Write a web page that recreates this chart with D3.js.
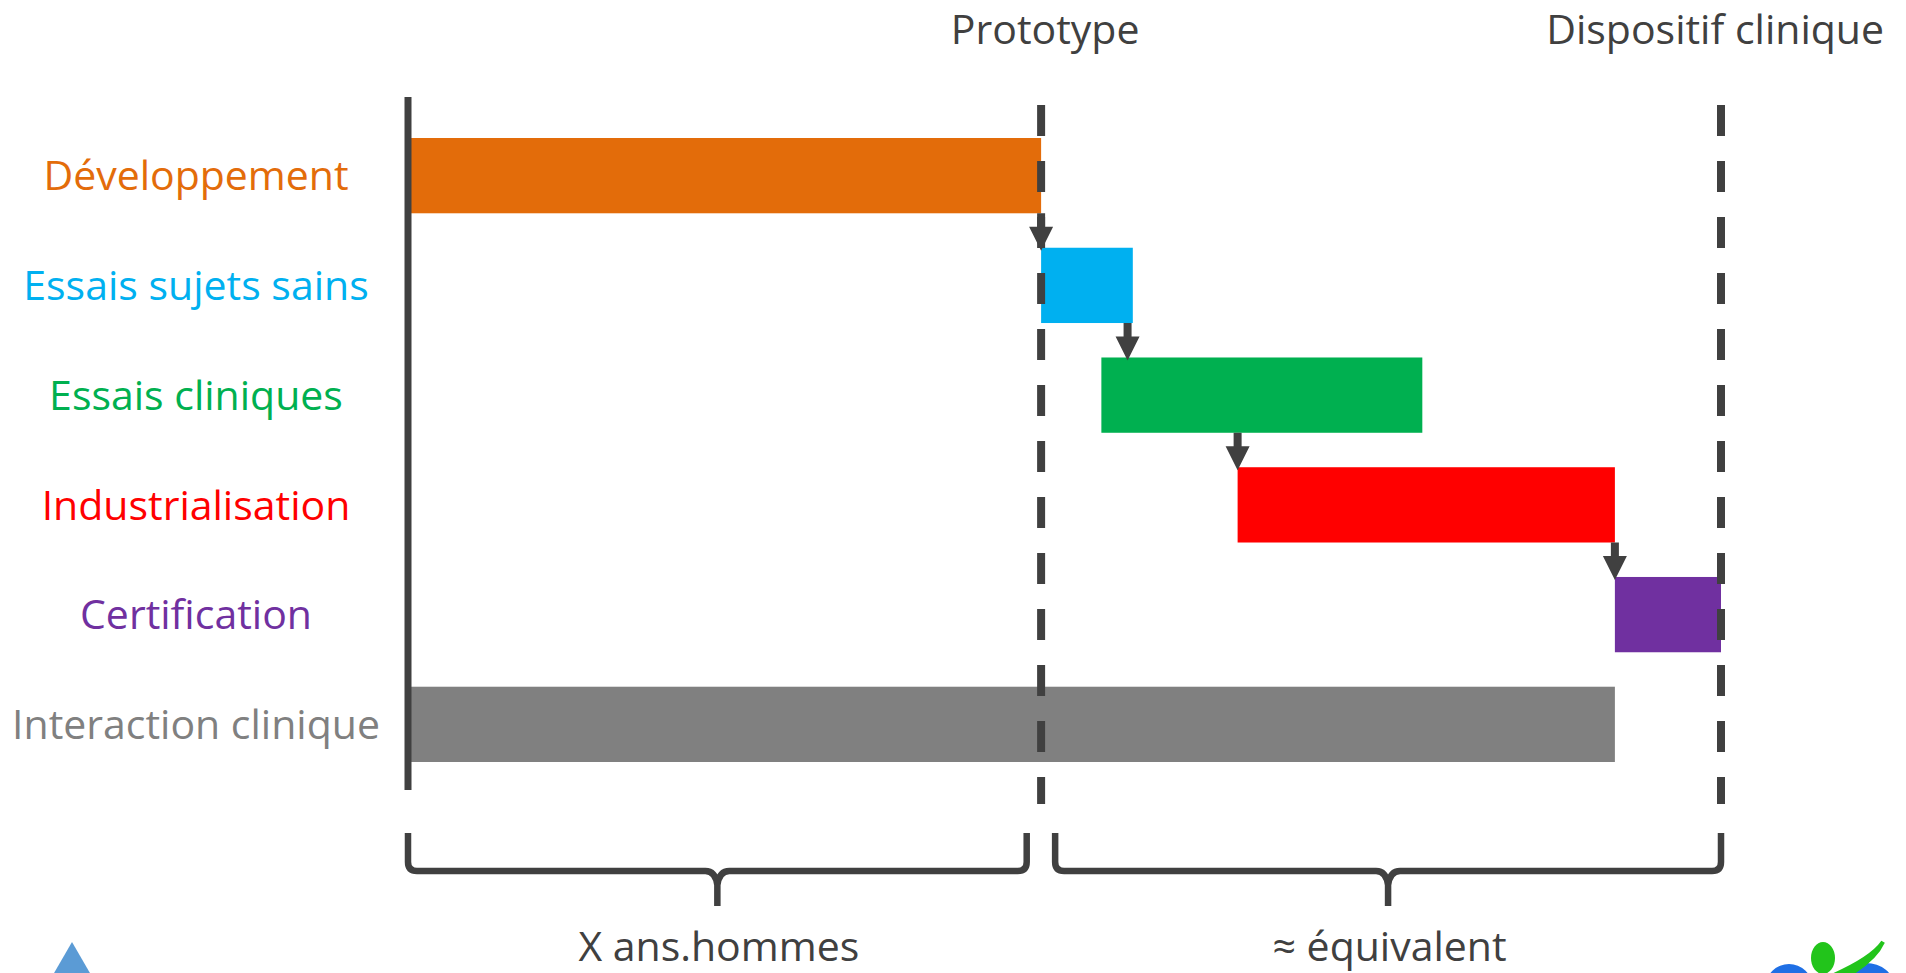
<!DOCTYPE html>
<html>
<head>
<meta charset="utf-8">
<script src="https://cdn.jsdelivr.net/npm/d3@7/dist/d3.min.js"></script>
<style>
  html, body { margin: 0; padding: 0; background: #fff; overflow: hidden; }
  svg text { font-family: "Open Sans", "Noto Sans", sans-serif; }
</style>
</head>
<body>
<svg id="chart" width="1906" height="973"></svg>
<script>
// Phases of the project (time in % of the total span)
const tasks = ['Développement', 'Essais sujets sains', 'Essais cliniques', 'Industrialisation', 'Certification', 'Interaction clinique'];
const taskStart = [0, 48.1, 52.7, 63.1, 91.9, 0];
const taskEnd = [48.1, 55.1, 77.2, 91.9, 100, 91.9];

// Milestones (dashed lines)
const milestones = ['Prototype', 'Dispositif clinique'];
const milestoneAt = [48.1, 100];

// Dependency arrows: from phase -> to phase, at time
const linkFrom = [0, 1, 2, 3];
const linkTo = [1, 2, 3, 4];
const linkAt = [48.1, 54.7, 63.1, 91.9];

// Braces under the chart
const braceLabels = ['X ans.hommes', '≈ équivalent'];
const braceFrom = [0, 49.4];
const braceTo = [47, 100];

const W = 1906, H = 973;
const dark = '#404040';

const svg = d3.select('#chart');

const x = d3.scaleLinear().domain([0, 100]).range([411, 1721]);
const y = d3.scaleBand().domain(tasks).range([138, 762]).paddingInner(0.314).paddingOuter(0);
const color = d3.scaleOrdinal()
    .domain(tasks)
    .range(['#E36C0A', '#00B0F0', '#00B050', '#FF0000', '#7030A0', '#808080']);

// Row labels
svg.append('g')
    .selectAll('text')
    .data(tasks)
    .enter().append('text')
    .attr('x', 196)
    .attr('y', d => y(d) + y.bandwidth() / 2)
    .attr('dy', '0.36em')
    .attr('text-anchor', 'middle')
    .attr('font-size', 41)
    .attr('fill', d => color(d))
    .text(d => d);

// Bars
svg.append('g')
    .selectAll('rect')
    .data(tasks)
    .enter().append('rect')
    .attr('x', (d, i) => x(taskStart[i]))
    .attr('y', d => y(d))
    .attr('width', (d, i) => x(taskEnd[i]) - x(taskStart[i]))
    .attr('height', y.bandwidth())
    .attr('fill', d => color(d));

// Time origin line
svg.append('line')
    .attr('x1', x(0) - 3).attr('x2', x(0) - 3)
    .attr('y1', 97).attr('y2', 790)
    .attr('stroke', dark)
    .attr('stroke-width', 7);

// Milestone lines + labels
const ms = svg.append('g');
ms.selectAll('line')
    .data(milestones)
    .enter().append('line')
    .attr('x1', (d, i) => x(milestoneAt[i]))
    .attr('x2', (d, i) => x(milestoneAt[i]))
    .attr('y1', 105)
    .attr('y2', 804)
    .attr('stroke', dark)
    .attr('stroke-width', 8)
    .attr('stroke-dasharray', '31 25');

ms.selectAll('text')
    .data(milestones)
    .enter().append('text')
    .attr('x', (d, i) => x(milestoneAt[i]) + 4)
    .attr('y', 44)
    .attr('text-anchor', 'middle')
    .attr('font-size', 41)
    .attr('fill', dark)
    .text(d => d)
    .each(function() {
        // keep the label inside the page
        const b = this.getBBox();
        if (b.x + b.width > W - 22) d3.select(this).attr('dx', (W - 22) - (b.x + b.width));
    });

// Dependency arrows
const head = 12, headH = 24, shaft = 4;
svg.append('g')
    .selectAll('path')
    .data(linkAt)
    .enter().append('path')
    .attr('fill', dark)
    .attr('d', (d, i) => {
        const cx = x(d);
        const y0 = y(tasks[linkFrom[i]]) + y.bandwidth();
        const y1 = y(tasks[linkTo[i]]) + 3;
        return `M${cx - shaft},${y0} L${cx + shaft},${y0} L${cx + shaft},${y1 - headH}
                L${cx + head},${y1 - headH} L${cx},${y1} L${cx - head},${y1 - headH}
                L${cx - shaft},${y1 - headH} Z`;
    });

// Braces
const braceTop = 833, braceLine = 871, braceTip = 906;
const braces = svg.append('g');
braces.selectAll('path')
    .data(braceLabels)
    .enter().append('path')
    .attr('fill', 'none')
    .attr('stroke', dark)
    .attr('stroke-width', 6.5)
    .attr('stroke-linejoin', 'round')
    .attr('d', (d, i) => {
        const x0 = x(braceFrom[i]) - 3, x1 = x(braceTo[i]);
        const m = (x0 + x1) / 2, r = 9;
        return `M${x0},${braceTop} L${x0},${braceLine - r} Q${x0},${braceLine} ${x0 + r},${braceLine}
                L${m - 12},${braceLine} Q${m - 2},${braceLine} ${m},${braceLine + 14} L${m},${braceTip}
                M${m},${braceLine + 14} Q${m + 2},${braceLine} ${m + 12},${braceLine}
                L${x1 - r},${braceLine} Q${x1},${braceLine} ${x1},${braceLine - r} L${x1},${braceTop}`;
    });

braces.selectAll('text')
    .data(braceLabels)
    .enter().append('text')
    .attr('x', (d, i) => (x(braceFrom[i]) + x(braceTo[i])) / 2)
    .attr('y', 961)
    .attr('text-anchor', 'middle')
    .attr('font-size', 41)
    .attr('fill', dark)
    .text(d => d);

// Logos peeking at the bottom corners
svg.append('path')
    .attr('d', 'M72,942 L94,980 L50,980 Z')
    .attr('fill', '#5b9bd5');

const logo = svg.append('g');
logo.append('ellipse').attr('cx', 1789).attr('cy', 986).attr('rx', 23).attr('ry', 22).attr('fill', '#1f6fe5');
logo.append('ellipse').attr('cx', 1866).attr('cy', 986).attr('rx', 28).attr('ry', 23).attr('fill', '#1f6fe5');
logo.append('ellipse').attr('cx', 1823).attr('cy', 958).attr('rx', 12).attr('ry', 16).attr('fill', '#22c41b');
logo.append('path')
    .attr('d', 'M1883,942 Q1872,958 1834,975 L1840,980 Q1874,962 1883,942 Z')
    .attr('fill', '#22c41b')
    .attr('stroke', '#22c41b')
    .attr('stroke-width', 4);
</script>
</body>
</html>
